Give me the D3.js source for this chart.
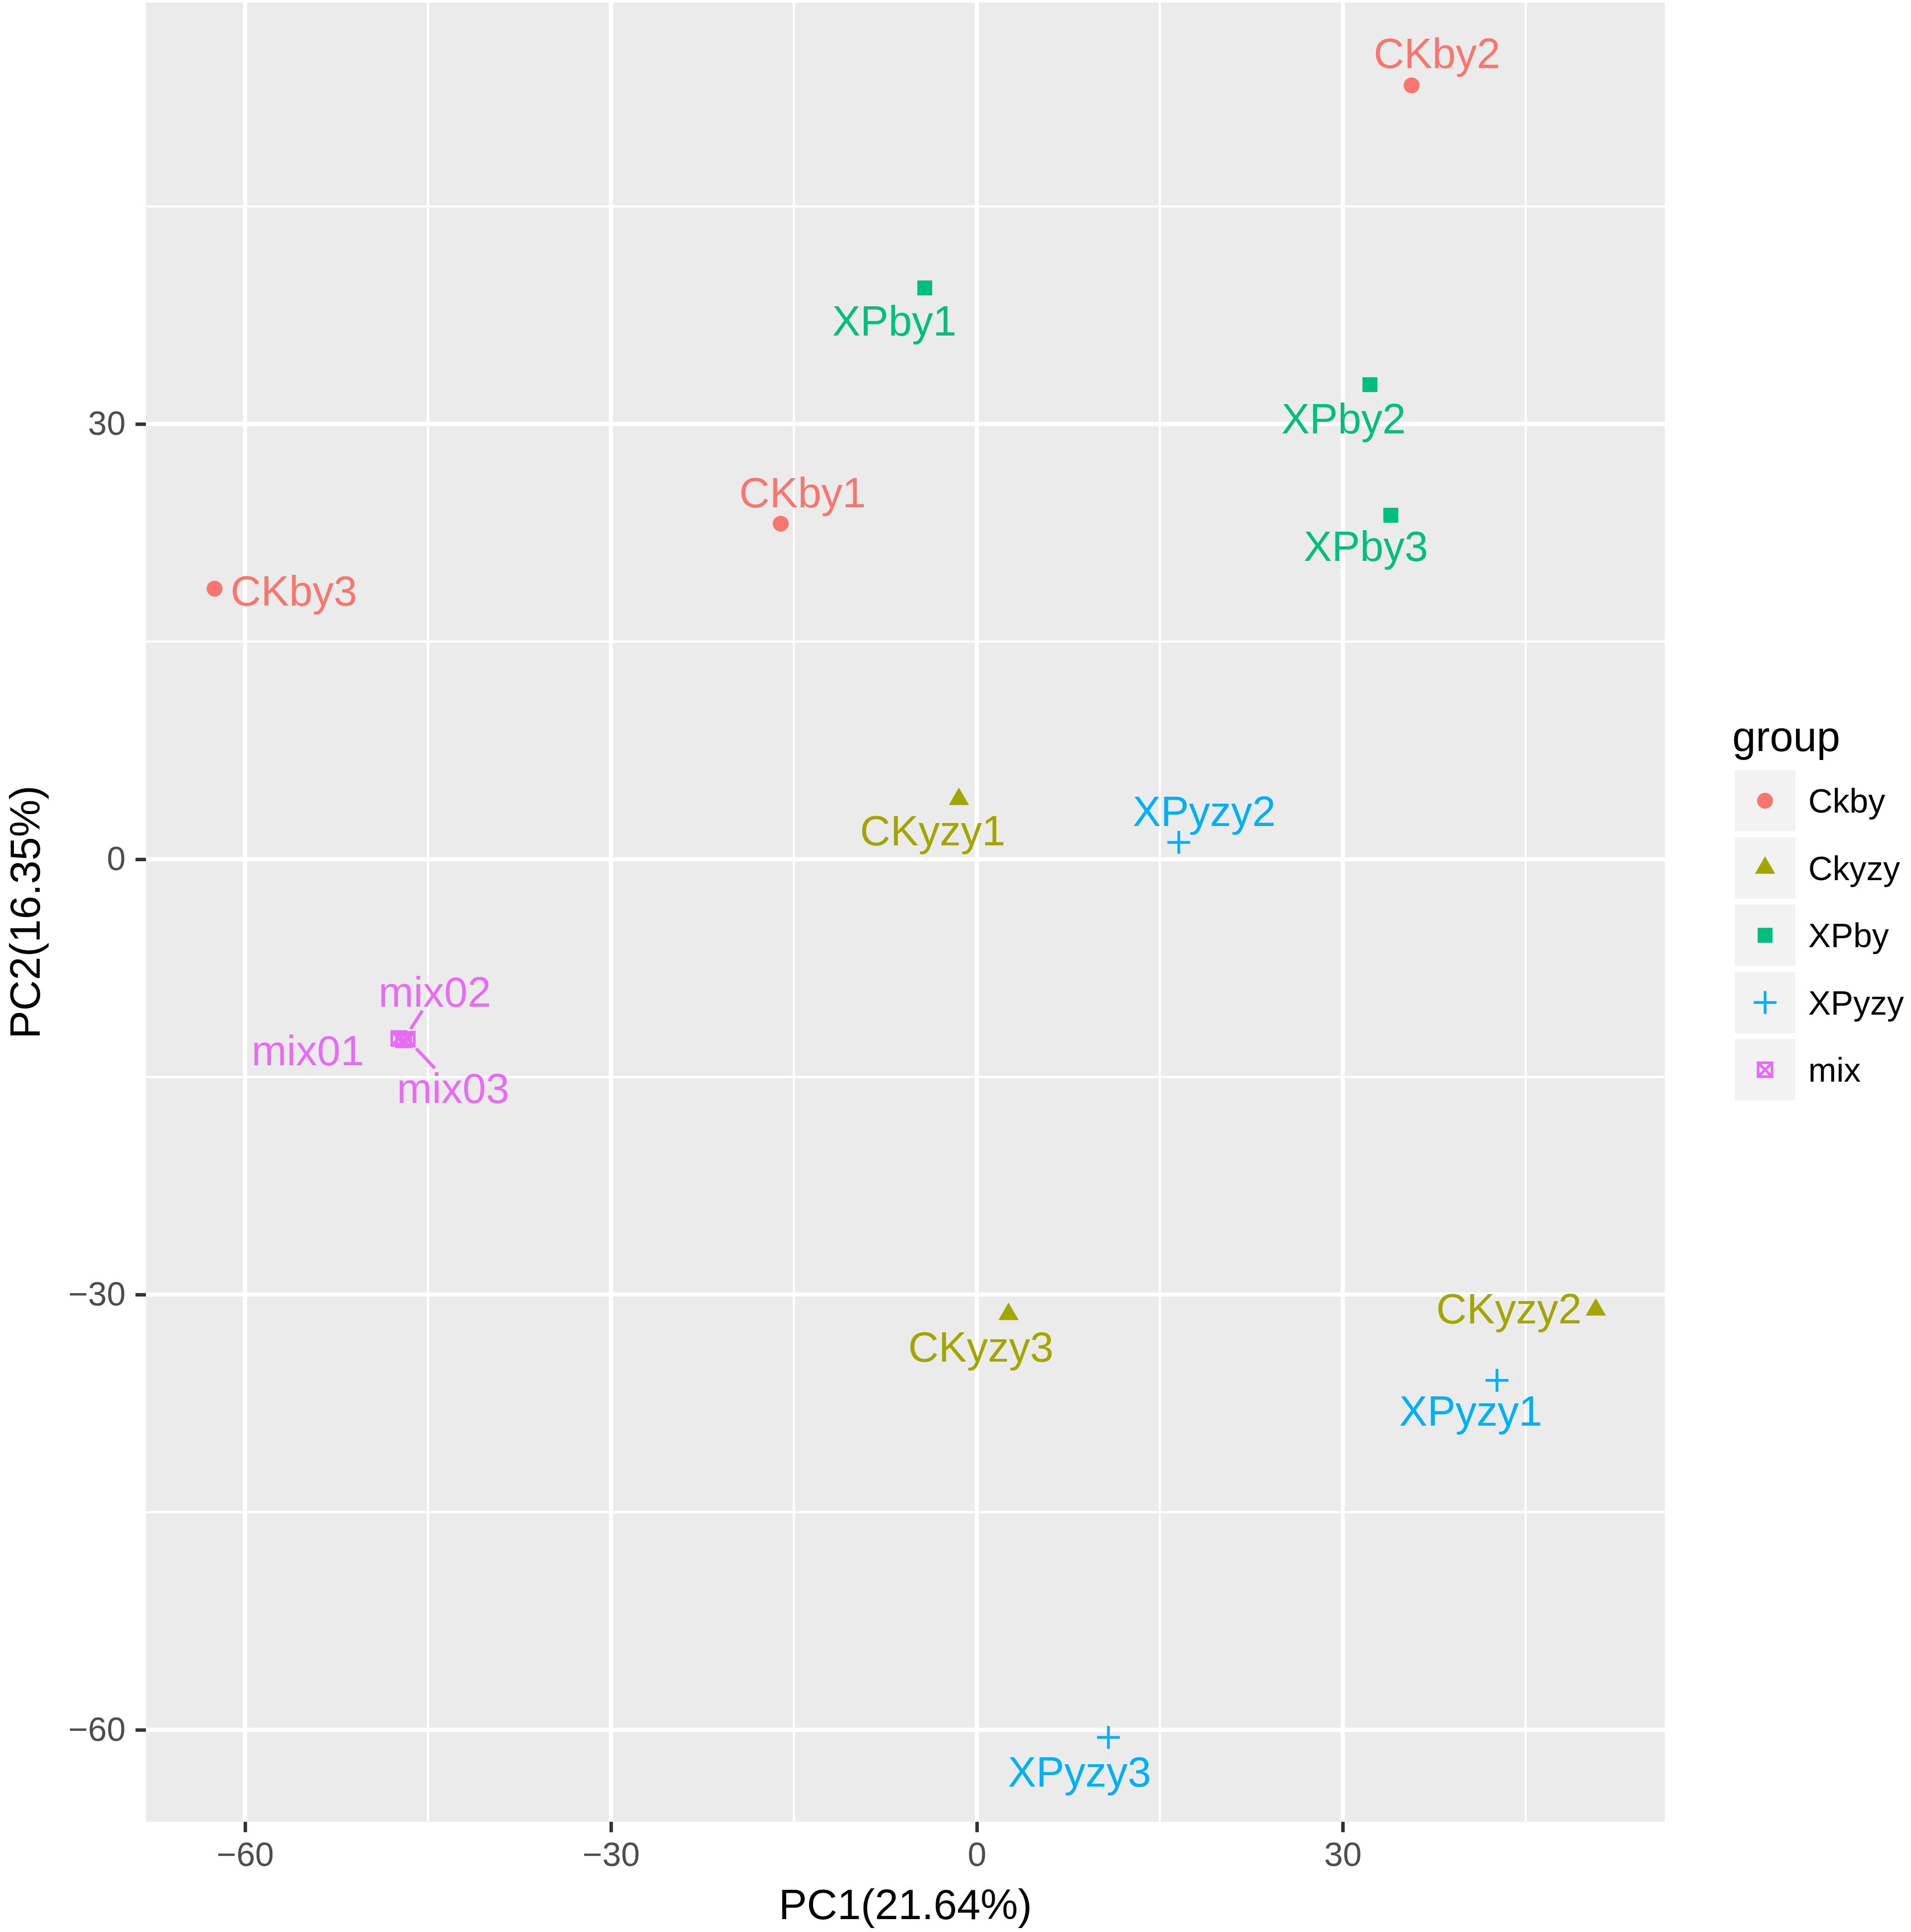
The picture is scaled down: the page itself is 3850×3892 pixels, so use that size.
<!DOCTYPE html>
<html>
<head>
<meta charset="utf-8">
<script src="https://cdn.jsdelivr.net/npm/d3@7"></script>
<style>
  body { margin: 0; background: #fff; }
  text { font-family: "Liberation Sans", Arial, Helvetica, sans-serif; }
</style>
</head>
<body>
<div id="chart"></div>
<script>
// PCA scores
const samples = ["CKby1", "CKby2", "CKby3", "CKyzy1", "CKyzy2", "CKyzy3",
  "XPby1", "XPby2", "XPby3", "XPyzy1", "XPyzy2", "XPyzy3", "mix01", "mix02", "mix03"];
const sampleGroup = ["Ckby", "Ckby", "Ckby", "Ckyzy", "Ckyzy", "Ckyzy",
  "XPby", "XPby", "XPby", "XPyzy", "XPyzy", "XPyzy", "mix", "mix", "mix"];
const pc1 = [-16.08, 35.65, -62.5, -1.47, 50.75, 2.6,
  -4.27, 32.23, 33.94, 42.65, 16.56, 10.79, -47.4, -47.0, -46.7];
const pc2 = [23.13, 53.34, 18.65, 4.14, -31.05, -31.36,
  39.38, 32.71, 23.71, -35.92, 1.16, -60.52, -12.35, -12.45, -12.4];

// where the repelled labels ended up (data units, label centre)
const labelPc1 = [-14.29, 37.73, -56.0, -3.62, 43.63, 0.33,
  -6.76, 30.08, 31.9, 40.5, 18.64, 8.42, -54.86, -44.45, -42.94];
const labelPc2 = [25.32, 55.6, 18.55, 2.02, -30.93, -33.56,
  37.15, 30.41, 21.62, -37.97, 3.35, -62.85, -13.14, -9.1, -15.74];
const segmentLabels = ["mix02", "mix03"];

const groups = ["Ckby", "Ckyzy", "XPby", "XPyzy", "mix"];
const xTicks = [-60, -30, 0, 30];
const yTicks = [-60, -30, 0, 30];
const xMinor = [-45, -15, 15, 45];
const yMinor = [-45, -15, 15, 45];
const xTitle = "PC1(21.64%)";
const yTitle = "PC2(16.35%)";
const legendTitle = "group";

// ggplot hue palette and shapes
const colors = d3.scaleOrdinal().domain(groups)
  .range(["#F8766D", "#A3A500", "#00BF7D", "#00B0F6", "#E76BF3"]);
const shapes = d3.scaleOrdinal().domain(groups)
  .range(["circle", "triangle", "square", "plus", "squareX"]);

const rows = samples.map((s, i) => ({
  name: s, group: sampleGroup[i], pc1: pc1[i], pc2: pc2[i],
  lx: labelPc1[i], ly: labelPc2[i]
}));

const width = 3850;
const height = 3892;
const panel = { left: 294, right: 3354, top: 5, bottom: 3670 };
const labelSize = 85;
const tickSize = 68;

const xScale = d3.scaleLinear().domain([-68.13, 56.41]).range([panel.left, panel.right]);
const yScale = d3.scaleLinear().domain([-66.34, 59.05]).range([panel.bottom, panel.top]);

const shapePath = shape => {
  if (shape === "circle") return d3.symbol(d3.symbolCircle, Math.PI * 16 * 16)();
  if (shape === "triangle") return d3.symbol(d3.symbolTriangle, 721)();
  if (shape === "square") return d3.symbol(d3.symbolSquare, 900)();
  if (shape === "plus") return "M-23,0H23M0,-23V23";
  return "M-14,-14H14V14H-14ZM-14,-14L14,14M14,-14L-14,14";
};
const filled = shape => shape === "circle" || shape === "triangle" || shape === "square";

const drawMarker = (sel, group) => {
  const shape = shapes(group);
  sel.append("path")
    .attr("d", shapePath(shape))
    .attr("fill", filled(shape) ? colors(group) : "none")
    .attr("stroke", filled(shape) ? "none" : colors(group))
    .attr("stroke-width", 5.5);
};

const svg = d3.select("#chart").append("svg")
  .attr("width", width)
  .attr("height", height);

// panel background and grid
svg.append("rect")
  .attr("x", panel.left).attr("y", panel.top)
  .attr("width", panel.right - panel.left)
  .attr("height", panel.bottom - panel.top)
  .attr("fill", "#EBEBEB");

const grid = svg.append("g").attr("stroke", "#fff");
grid.selectAll(".xminor").data(xMinor).join("line")
  .attr("x1", d => xScale(d)).attr("x2", d => xScale(d))
  .attr("y1", panel.top).attr("y2", panel.bottom)
  .attr("stroke-width", 4.5);
grid.selectAll(".yminor").data(yMinor).join("line")
  .attr("y1", d => yScale(d)).attr("y2", d => yScale(d))
  .attr("x1", panel.left).attr("x2", panel.right)
  .attr("stroke-width", 4.5);
grid.selectAll(".xmajor").data(xTicks).join("line")
  .attr("x1", d => xScale(d)).attr("x2", d => xScale(d))
  .attr("y1", panel.top).attr("y2", panel.bottom)
  .attr("stroke-width", 8.5);
grid.selectAll(".ymajor").data(yTicks).join("line")
  .attr("y1", d => yScale(d)).attr("y2", d => yScale(d))
  .attr("x1", panel.left).attr("x2", panel.right)
  .attr("stroke-width", 8.5);

// axes
const styleAxis = g => {
  g.select(".domain").remove();
  g.selectAll(".tick line").attr("stroke", "#333333").attr("stroke-width", 7);
  g.selectAll(".tick text")
    .attr("fill", "#4D4D4D")
    .style("font-size", tickSize + "px")
    .style("font-family", "'Liberation Sans', Arial, sans-serif");
};

svg.append("g")
  .attr("transform", `translate(0,${panel.bottom})`)
  .call(d3.axisBottom(xScale).tickValues(xTicks).tickSize(21).tickPadding(20)
    .tickFormat(d => d < 0 ? "\u2212" + Math.abs(d) : d))
  .call(styleAxis);

svg.append("g")
  .attr("transform", `translate(${panel.left},0)`)
  .call(d3.axisLeft(yScale).tickValues(yTicks).tickSize(21).tickPadding(20)
    .tickFormat(d => d < 0 ? "\u2212" + Math.abs(d) : d))
  .call(styleAxis);

svg.append("text")
  .attr("x", (panel.left + panel.right) / 2)
  .attr("y", 3866)
  .attr("text-anchor", "middle")
  .style("font-size", labelSize + "px")
  .text(xTitle);

svg.append("text")
  .attr("transform", `translate(80,${(panel.top + panel.bottom) / 2}) rotate(-90)`)
  .attr("text-anchor", "middle")
  .style("font-size", labelSize + "px")
  .text(yTitle);

// layers
const segLayer = svg.append("g");
const pointLayer = svg.append("g");
const labelLayer = svg.append("g");

pointLayer.selectAll("g").data(rows).join("g")
  .attr("transform", d => `translate(${xScale(d.pc1)},${yScale(d.pc2)})`)
  .each(function (d) { drawMarker(d3.select(this), d.group); });

const labels = labelLayer.selectAll("text").data(rows).join("text")
  .attr("x", d => xScale(d.lx))
  .attr("y", d => yScale(d.ly))
  .attr("dy", "0.365em")
  .attr("text-anchor", "middle")
  .attr("fill", d => colors(d.group))
  .style("font-size", labelSize + "px")
  .text(d => d.name);

labels.each(function (d) { d.halfW = this.getComputedTextLength() / 2; });

// leader lines from point to label box edge
const halfH = 39;
const segRows = rows.filter(d => segmentLabels.includes(d.name));
segLayer.selectAll("line").data(segRows).join("line")
  .each(function (d) {
    const px = xScale(d.pc1), py = yScale(d.pc2);
    const lx = xScale(d.lx), ly = yScale(d.ly);
    const dx = lx - px, dy = ly - py;
    const len = Math.hypot(dx, dy);
    const s = Math.min(d.halfW / Math.abs(dx), halfH / Math.abs(dy));
    d3.select(this)
      .attr("x1", px + dx / len * 26).attr("y1", py + dy / len * 26)
      .attr("x2", lx - dx * s).attr("y2", ly - dy * s);
  })
  .attr("stroke", d => colors(d.group))
  .attr("stroke-width", 6.5);

// legend
const legend = svg.append("g");
legend.append("text")
  .attr("x", 3490).attr("y", 1513)
  .style("font-size", labelSize + "px")
  .text(legendTitle);

const keyStep = 135.5;
const keys = legend.selectAll("g.key").data(groups).join("g")
  .attr("class", "key")
  .attr("transform", (d, i) => `translate(3556,${1613 + i * keyStep})`);

keys.append("rect")
  .attr("x", -67).attr("y", -keyStep / 2)
  .attr("width", 134).attr("height", keyStep)
  .attr("fill", "#F2F2F2")
  .attr("stroke", "#fff")
  .attr("stroke-width", 12);

keys.each(function (d) { drawMarker(d3.select(this), d); });

keys.append("text")
  .attr("x", 87)
  .attr("dy", "0.36em")
  .style("font-size", tickSize + "px")
  .text(d => d);
</script>
</body>
</html>
